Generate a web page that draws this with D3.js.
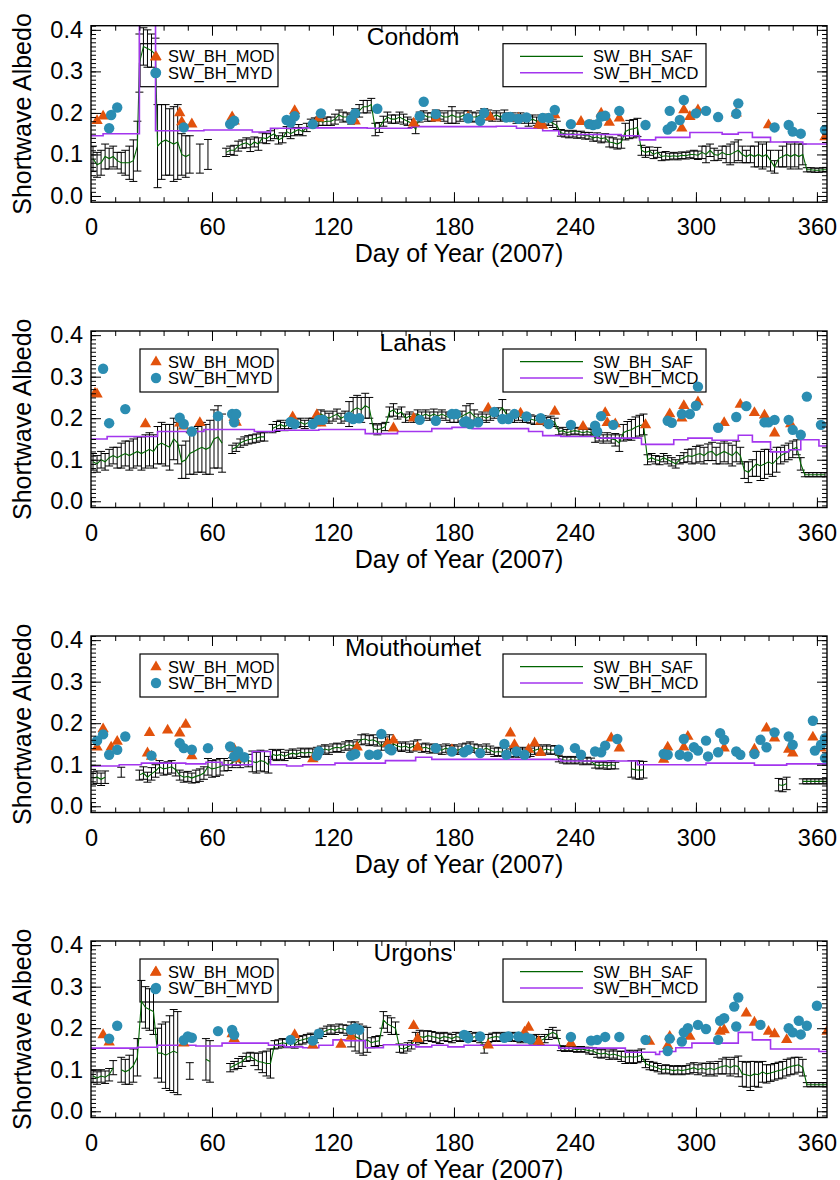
<!DOCTYPE html>
<html lang="en">
<head>
<meta charset="UTF-8">
<script src="https://cdnjs.cloudflare.com/ajax/libs/d3/7.8.5/d3.min.js"></script>
<style>
body{ margin:0; background:#fff; }
text{ font-family:"Liberation Sans", Arial, sans-serif; fill:#000; }
</style>
</head>
<body>
<div id="main-container"></div>
<script>
// ---- tick labels ----
const xTickLabels = [0, 60, 120, 180, 240, 300, 360];
const yTickLabels = [0.0, 0.1, 0.2, 0.3, 0.4];
const siteNames = ['Condom', 'Lahas', 'Mouthoumet', 'Urgons'];

// ---- SAF daily albedo: [day, value, error] (null value = gap) ----
const condomSAF = [[1,0.09,0.03],[3,0.075,0.03],[5,0.08,0.03],[7,0.095,0.03],[9,0.09,0.025],[11,0.095,0.025],
[13,0.085,0.02],[15,0.08,0.025],[17,0.08,0.03],[19,0.08,0.04],[21,0.085,0.05],[23,0.12,0.06],
[24,0.32,0.07],[26,0.36,0.045],[28,0.355,0.045],[30,0.35,0.04],[32,0.34,0.04],
[33,0.12,0.1],[35,0.13,0.09],[37,0.135,0.085],[39,0.13,0.08],[41,0.125,0.09],[43,0.13,0.09],
[45,0.1,0.05],[47,0.095,0.05],[49,0.1,0.045],[51,null,null],[54,0.09,0.035],[55,null,null],[58,0.1,0.036],[59,null,null],
[67,0.105,0.01],[69,0.11,0.01],[71,0.11,0.012],[73,0.12,0.012],[75,0.125,0.01],[77,0.128,0.012],[79,0.122,0.015],[81,0.13,0.012],[83,0.125,0.015],[85,0.14,0.012],[87,0.138,0.012],[89,0.145,0.012],[91,0.15,0.012],[93,0.135,0.01],[95,0.14,0.012],[97,0.155,0.012],[99,0.15,0.012],[101,0.155,0.01],[103,0.16,0.012],[105,0.155,0.01],[107,0.165,0.01],
[109,0.175,0.01],[111,0.178,0.01],[113,0.18,0.01],[115,0.178,0.008],[117,0.18,0.01],[119,0.18,0.01],[121,0.185,0.012],[123,0.195,0.012],[125,0.19,0.012],[127,0.19,0.01],[129,0.185,0.012],[131,0.195,0.015],[133,0.205,0.015],[135,0.215,0.015],[137,0.215,0.015],[139,0.22,0.015],[141,0.16,0.015],[143,0.165,0.012],[145,0.18,0.012],[147,0.19,0.012],[149,0.185,0.01],[151,0.185,0.01],[153,0.19,0.012],[155,0.185,0.012],[157,0.18,0.01],[159,0.175,0.01],[161,0.16,0.01],[163,0.19,0.012],[165,0.195,0.01],[167,0.19,0.01],[169,0.19,0.01],[171,0.195,0.012],[173,0.195,0.01],[175,0.19,0.01],[177,0.19,0.015],[179,0.195,0.02],[181,0.19,0.015],[183,0.19,0.01],[185,0.195,0.01],[187,0.195,0.01],[189,0.19,0.012],[191,0.19,0.01],[193,0.195,0.01],[195,0.2,0.01],[197,0.195,0.012],[199,0.19,0.01],[201,0.195,0.01],[203,0.19,0.01],[205,0.195,0.012],[207,0.19,0.01],[209,0.19,0.01],[211,0.185,0.01],[213,0.19,0.01],[215,0.185,0.01],[217,0.18,0.012],[219,0.185,0.01],[221,0.18,0.01],[223,0.183,0.012],[225,0.185,0.012],[227,0.18,0.01],[229,0.175,0.01],[231,0.17,0.01],
[233,0.152,0.008],[235,0.15,0.008],[237,0.148,0.008],[239,0.15,0.008],[241,0.147,0.008],[243,0.148,0.008],[245,0.145,0.008],[247,0.145,0.008],[249,0.14,0.008],[251,0.142,0.01],[253,0.138,0.01],[255,0.14,0.01],[257,0.13,0.012],[259,0.128,0.012],[261,0.125,0.012],[263,0.13,0.015],[265,0.155,0.02],[267,0.16,0.022],[269,0.162,0.022],[271,0.165,0.022],
[273,0.11,0.012],[275,0.105,0.012],[277,0.108,0.01],[279,0.1,0.01],[281,0.105,0.012],[283,0.095,0.01],[285,0.097,0.01],[287,0.095,0.008],[289,0.097,0.008],[291,0.095,0.008],[293,0.098,0.008],[295,0.097,0.008],[297,0.1,0.008],[299,0.1,0.01],[301,0.098,0.01],[303,0.105,0.015],[305,0.1,0.02],[307,0.11,0.015],[309,0.1,0.015],[311,0.098,0.012],[313,0.105,0.015],[315,0.1,0.02],[317,0.1,0.025],[319,0.105,0.025],[321,0.11,0.025],[323,0.1,0.02],[325,0.095,0.015],[327,0.1,0.02],[329,0.095,0.025],[331,0.1,0.03],[333,0.095,0.03],[335,0.1,0.03],[337,0.085,0.025],[339,0.07,0.015],[341,0.09,0.02],[343,0.095,0.025],[345,0.1,0.03],[347,0.095,0.03],[349,0.1,0.03],[351,0.095,0.03],[353,0.1,0.025],
[355,0.063,0.005],[357,0.063,0.005],[359,0.062,0.005],[361,0.062,0.005],[363,0.063,0.005],[365,0.063,0.005]];

const lahasSAF = [[1,0.095,0.02],[3,0.09,0.02],[5,0.1,0.02],[7,0.095,0.02],[9,0.105,0.02],[11,0.11,0.02],[13,0.105,0.025],[15,0.11,0.03],[17,0.115,0.03],[19,0.11,0.035],[21,0.115,0.035],[23,0.12,0.035],[25,0.115,0.04],[27,0.12,0.04],[29,0.125,0.04],[31,0.12,0.04],[33,0.135,0.045],[35,0.14,0.05],[37,0.135,0.05],[39,0.13,0.055],[41,0.15,0.05],[43,0.14,0.05],
[45,0.095,0.04],[47,0.1,0.045],[49,0.115,0.05],[51,0.12,0.055],[53,0.125,0.055],[55,0.13,0.06],[57,0.125,0.06],[59,0.13,0.065],[61,0.15,0.07],[63,0.155,0.075],[65,0.14,0.07],[67,null,null],
[70,0.125,0.01],[72,0.13,0.01],[74,0.14,0.01],[76,0.145,0.01],[78,0.148,0.01],[80,0.15,0.01],[82,0.152,0.01],[84,0.155,0.01],[86,0.155,0.01],[88,null,null],
[90,0.175,0.01],[92,0.18,0.012],[94,0.185,0.01],[96,0.18,0.01],[98,0.185,0.01],[100,0.185,0.01],[102,0.188,0.01],[104,0.19,0.01],[106,0.185,0.01],[108,0.19,0.01],[110,0.19,0.01],[112,0.192,0.01],[114,0.21,0.01],[116,0.205,0.012],[118,0.2,0.012],[120,0.205,0.012],[122,0.21,0.012],[124,0.2,0.012],[126,0.205,0.012],[128,0.21,0.03],[130,0.22,0.03],[132,0.225,0.03],[134,0.22,0.03],[136,0.23,0.03],[138,0.225,0.025],[140,0.175,0.012],[142,0.172,0.012],[144,0.175,0.012],[146,0.18,0.01],[148,0.215,0.012],[150,0.22,0.015],[152,0.21,0.012],[154,0.215,0.012],[156,0.2,0.01],[158,0.205,0.01],[160,0.2,0.01],[162,0.21,0.01],[164,0.205,0.01],[166,0.21,0.01],[168,0.205,0.01],[170,0.21,0.012],[172,0.205,0.01],[174,0.21,0.01],[176,0.205,0.01],[178,0.2,0.01],[180,0.2,0.01],[182,0.2,0.01],[184,0.205,0.012],[186,0.21,0.02],[188,0.215,0.02],[190,0.205,0.015],[192,0.2,0.01],[194,0.205,0.01],[196,0.2,0.01],[198,0.205,0.01],[200,0.21,0.01],[202,0.215,0.01],[204,0.225,0.02],[206,0.21,0.01],[208,0.2,0.01],[210,0.2,0.01],[212,0.205,0.01],[214,0.2,0.01],[216,0.2,0.01],[218,0.198,0.01],[220,0.195,0.01],[222,0.195,0.01],[224,0.196,0.01],[226,0.192,0.01],[228,0.195,0.01],[230,0.19,0.01],
[232,0.168,0.008],[234,0.17,0.008],[236,0.165,0.008],[238,0.168,0.008],[240,0.17,0.008],[242,0.168,0.008],[244,0.165,0.008],[246,0.168,0.008],[248,0.165,0.008],[250,0.152,0.01],[252,0.155,0.01],[254,0.15,0.01],[256,0.155,0.01],[258,0.15,0.01],[260,0.148,0.015],[262,0.14,0.02],[264,0.165,0.02],[266,0.17,0.022],[268,0.172,0.025],[270,0.178,0.025],[272,0.182,0.025],[274,0.185,0.025],
[276,0.1,0.012],[278,0.105,0.01],[280,0.1,0.01],[282,0.098,0.01],[284,0.105,0.01],[286,0.1,0.01],[288,0.095,0.01],[290,0.09,0.01],[292,0.1,0.01],[294,0.105,0.012],[296,0.11,0.015],[298,0.108,0.018],[300,0.112,0.02],[302,0.115,0.02],[304,0.11,0.02],[306,0.118,0.02],[308,0.12,0.022],[310,0.11,0.02],[312,0.115,0.025],[314,0.12,0.025],[316,0.115,0.025],[318,0.11,0.025],[320,0.12,0.025],[322,0.11,0.02],[324,0.075,0.02],[326,0.07,0.025],[328,0.08,0.02],[330,0.09,0.03],[332,0.085,0.035],[334,0.09,0.035],[336,0.095,0.03],[338,0.09,0.03],[340,0.1,0.03],[342,0.11,0.02],[344,0.115,0.02],[346,0.12,0.02],[348,0.125,0.02],[350,0.13,0.018],[352,0.09,0.015],
[354,0.064,0.005],[356,0.064,0.005],[358,0.064,0.005],[360,0.064,0.005],[362,0.064,0.005],[364,0.064,0.005]];

const mouthoumetSAF = [[1,0.068,0.015],[3,0.07,0.015],[5,0.065,0.015],[7,0.07,0.015],[8,null,null],[15,0.082,0.012],[16,null,null],
[24,0.075,0.012],[26,0.08,0.015],[28,0.07,0.012],[30,0.078,0.015],[32,0.085,0.015],[34,0.095,0.015],[36,0.09,0.015],[38,0.092,0.015],[40,0.095,0.015],[42,0.088,0.015],[44,0.075,0.012],[46,0.07,0.012],[48,0.072,0.012],[50,0.068,0.012],[52,0.072,0.015],[54,0.075,0.015],[56,0.08,0.015],[58,0.095,0.02],[60,0.09,0.02],[62,0.092,0.02],[64,0.095,0.02],[66,0.1,0.015],[68,0.098,0.012],[70,0.105,0.012],[72,0.11,0.012],[74,0.105,0.012],[76,0.112,0.012],[78,0.11,0.015],[80,0.108,0.025],[82,0.105,0.025],[84,0.11,0.025],[86,0.108,0.025],[88,0.1,0.02],
[90,0.125,0.012],[92,0.122,0.012],[94,0.125,0.012],[96,0.12,0.01],[98,0.125,0.01],[100,0.128,0.01],[102,0.125,0.01],[104,0.13,0.01],[106,0.128,0.01],[108,0.13,0.01],[110,0.128,0.01],[112,0.132,0.01],[114,0.135,0.01],[116,0.138,0.01],[118,0.135,0.01],[120,0.14,0.01],[122,0.142,0.01],[124,0.14,0.01],[126,0.145,0.01],[128,0.148,0.01],[130,0.145,0.01],[132,0.15,0.01],[134,0.16,0.012],[136,0.162,0.012],[138,0.158,0.012],[140,0.16,0.012],[142,0.155,0.01],[144,0.145,0.01],[146,0.155,0.012],[148,0.16,0.012],[150,0.15,0.01],[152,0.145,0.01],[154,0.142,0.01],[156,0.145,0.01],[158,0.14,0.01],[160,0.145,0.012],[162,0.148,0.012],[164,0.14,0.01],[166,0.142,0.01],[168,0.138,0.01],[170,0.14,0.01],[172,0.138,0.01],[174,0.135,0.01],[176,0.14,0.01],[178,0.136,0.01],[180,0.138,0.01],[182,0.135,0.01],[184,0.14,0.01],[186,0.142,0.01],[188,0.145,0.01],[190,0.14,0.01],[192,0.138,0.01],[194,0.135,0.01],[196,0.14,0.01],[198,0.135,0.01],[200,0.13,0.01],[202,0.132,0.01],[204,0.13,0.01],[206,0.135,0.01],[208,0.128,0.01],[210,0.13,0.01],[212,0.128,0.01],[214,0.132,0.01],[216,0.128,0.01],[218,0.13,0.01],[220,0.135,0.01],[222,0.138,0.01],[224,0.135,0.01],[226,0.138,0.01],[228,0.135,0.01],[230,0.136,0.01],
[232,0.115,0.008],[234,0.112,0.008],[236,0.11,0.008],[238,0.112,0.008],[240,0.11,0.008],[242,0.112,0.008],[244,0.108,0.008],[246,0.11,0.008],[248,0.108,0.008],[250,0.1,0.008],[252,0.098,0.008],[254,0.1,0.008],[256,0.097,0.008],[258,0.1,0.01],[260,0.098,0.008],[261,null,null],
[268,0.09,0.02],[270,0.088,0.022],[272,0.087,0.022],[274,0.088,0.02],[275,null,null],
[341,0.052,0.015],[343,0.05,0.015],[345,0.055,0.015],[346,null,null],
[353,0.06,0.006],[355,0.06,0.006],[357,0.06,0.006],[359,0.06,0.006],[361,0.06,0.006],[363,0.06,0.006],[365,0.06,0.006]];

const urgonsSAF = [[1,0.085,0.015],[3,0.08,0.015],[5,0.085,0.015],[7,0.082,0.015],[9,0.088,0.015],[11,0.105,0.017],[12,null,null],
[15,0.1,0.03],[17,0.095,0.03],[19,0.1,0.035],[21,0.11,0.04],[23,0.13,0.045],[25,0.265,0.05],[27,0.25,0.05],[29,0.245,0.05],[31,0.24,0.055],[33,0.14,0.06],[35,0.14,0.07],[37,0.135,0.08],[39,0.14,0.09],[41,0.145,0.1],[43,0.14,0.1],[44,null,null],
[49,0.097,0.02],[50,null,null],[57,0.125,0.05],[59,0.12,0.05],[60,null,null],
[69,0.105,0.01],[71,0.11,0.01],[73,0.115,0.012],[75,0.12,0.012],[77,0.13,0.01],[79,0.132,0.01],[81,0.125,0.015],[83,0.12,0.02],[85,0.118,0.025],[87,0.115,0.03],[89,0.115,0.035],
[91,0.16,0.01],[93,0.162,0.01],[95,0.165,0.01],[97,0.163,0.01],[99,0.165,0.01],[101,0.162,0.01],[103,0.17,0.01],[105,0.172,0.01],[107,0.175,0.01],[109,0.178,0.01],[111,0.175,0.01],[113,0.185,0.01],[115,0.19,0.01],[117,0.195,0.01],[119,0.198,0.01],[121,0.195,0.01],[123,0.2,0.01],[125,0.198,0.01],[127,0.195,0.012],[129,0.185,0.03],[131,0.18,0.035],[133,0.175,0.035],[135,0.17,0.035],[137,0.172,0.03],[139,0.165,0.012],[141,0.168,0.012],[143,0.17,0.012],[145,0.22,0.02],[147,0.21,0.02],[149,0.205,0.02],[151,0.2,0.015],[153,0.152,0.01],[155,0.15,0.01],[157,0.155,0.01],[159,0.16,0.01],[161,0.175,0.015],[163,0.18,0.015],[165,0.178,0.015],[167,0.182,0.012],[169,0.18,0.012],[171,0.178,0.012],[173,0.175,0.012],[175,0.18,0.01],[177,0.178,0.01],[179,0.175,0.01],[181,0.18,0.01],[183,0.178,0.01],[185,0.18,0.01],[187,0.182,0.01],[189,0.178,0.01],[191,0.18,0.01],[193,0.175,0.01],[195,0.15,0.01],[197,0.175,0.01],[199,0.178,0.01],[201,0.18,0.01],[203,0.178,0.01],[205,0.18,0.01],[207,0.178,0.01],[209,0.18,0.01],[211,0.178,0.01],[213,0.175,0.01],[215,0.178,0.01],[217,0.175,0.01],[219,0.172,0.01],[221,0.175,0.01],[223,0.17,0.01],[225,0.175,0.01],[227,0.185,0.012],[229,0.19,0.012],[231,0.185,0.01],
[233,0.152,0.006],[235,0.15,0.006],[237,0.152,0.006],[239,0.15,0.006],[241,0.148,0.006],[243,0.15,0.006],[245,0.148,0.006],[247,0.146,0.008],[249,0.145,0.008],[251,0.14,0.01],[253,0.138,0.01],[255,0.14,0.01],[257,0.135,0.01],[259,0.138,0.01],[261,0.135,0.01],[263,0.132,0.012],[265,0.13,0.015],[267,0.132,0.015],[269,0.13,0.015],[271,0.132,0.015],[273,0.135,0.015],
[275,0.115,0.01],[277,0.11,0.01],[279,0.108,0.01],[281,0.105,0.01],[283,0.1,0.01],[285,0.102,0.01],[287,0.1,0.01],[289,0.098,0.01],[291,0.1,0.01],[293,0.098,0.01],[295,0.1,0.01],[297,0.102,0.012],[299,0.105,0.012],[301,0.1,0.012],[303,0.104,0.012],[305,0.1,0.015],[307,0.104,0.015],[309,0.1,0.015],[311,0.105,0.015],[313,0.108,0.018],[315,0.11,0.02],[317,0.105,0.02],[319,0.11,0.02],[321,0.108,0.025],[323,0.09,0.03],[325,0.088,0.03],[327,0.085,0.035],[329,0.09,0.03],[331,0.088,0.03],[333,0.095,0.025],[335,0.09,0.022],[337,0.092,0.02],[339,0.095,0.02],[341,0.098,0.02],[343,0.1,0.02],[345,0.105,0.02],[347,0.108,0.02],[349,0.11,0.02],[351,0.112,0.018],[353,0.105,0.02],
[355,0.064,0.005],[357,0.064,0.005],[359,0.064,0.005],[361,0.064,0.005],[363,0.064,0.005],[365,0.064,0.005]];

// ---- MCD 8-day albedo, steps: [start day, value] ----
const condomMCD = [[0,0.145],[6,0.15],[24,0.5],[32,0.157],[56,0.159],[80,0.154],[89,0.163],[105,0.164],[137,0.163],[159,0.167],[201,0.168],[211,0.163],[224,0.157],[232,0.148],[263,0.145],[272,0.135],[280,0.141],[297,0.153],[313,0.149],[321,0.153],[328,0.141],[337,0.130],[353,0.125]];
const lahasMCD = [[0,0.15],[8,0.156],[33,0.168],[56,0.173],[81,0.168],[91,0.171],[113,0.173],[136,0.163],[152,0.168],[169,0.175],[179,0.178],[189,0.175],[217,0.168],[224,0.158],[233,0.156],[251,0.152],[273,0.137],[289,0.148],[296,0.152],[308,0.147],[321,0.159],[328,0.143],[337,0.119],[346,0.124],[352,0.148],[361,0.133]];
const mouthoumetMCD = [[0,0.097],[14,0.1],[25,0.104],[47,0.102],[57,0.106],[65,0.1],[80,0.132],[89,0.1],[97,0.097],[105,0.1],[121,0.104],[146,0.11],[161,0.118],[169,0.113],[200,0.113],[233,0.109],[271,0.1],[305,0.104],[329,0.099],[345,0.102]];
const urgonsMCD = [[0,0.152],[23,0.154],[33,0.159],[52,0.157],[65,0.164],[88,0.159],[96,0.155],[105,0.153],[113,0.159],[120,0.172],[126,0.17],[136,0.153],[145,0.16],[161,0.155],[169,0.159],[177,0.155],[185,0.159],[232,0.152],[265,0.142],[280,0.137],[282,0.144],[290,0.153],[298,0.164],[321,0.19],[328,0.172],[337,0.15],[361,0.144]];

// ---- MOD (Terra) points: [day, value] ----
const condomMOD = [[3,0.181],[6,0.192],[32,0.334],[44,0.2],[45,0.178],[50,0.173],[70,0.19],[71,0.18],[101,0.205],[113,0.187],[131,0.18],[160,0.175],[171,0.187],[187,0.19],[198,0.19],[212,0.187],[222,0.171],[224,0.17],[230,0.195],[243,0.179],[248,0.17],[253,0.199],[257,0.177],[262,0.187],[293,0.163],[294,0.207],[297,0.191],[301,0.207],[320,0.199],[336,0.171],[364,0.142]];
const lahasMOD = [[2,0.26],[3,0.258],[27,0.186],[44,0.188],[46,0.181],[54,0.189],[71,0.201],[72,0.19],[100,0.203],[112,0.208],[114,0.188],[150,0.176],[160,0.2],[197,0.224],[213,0.212],[223,0.192],[230,0.216],[244,0.18],[255,0.213],[256,0.189],[260,0.186],[275,0.184],[287,0.21],[293,0.2],[294,0.23],[301,0.239],[314,0.189],[322,0.233],[329,0.213],[334,0.207],[339,0.164],[347,0.186]];
const mouthoumetMOD = [[3,0.142],[6,0.186],[10,0.142],[13,0.156],[28,0.128],[29,0.177],[30,0.12],[38,0.183],[44,0.176],[47,0.197],[50,0.121],[71,0.138],[73,0.114],[110,0.114],[132,0.142],[147,0.151],[150,0.159],[162,0.142],[179,0.136],[208,0.176],[210,0.148],[217,0.137],[220,0.152],[223,0.129],[258,0.164],[262,0.14],[284,0.113],[286,0.142],[294,0.142],[296,0.168],[314,0.14],[329,0.137],[335,0.188],[339,0.164],[346,0.137],[348,0.128],[358,0.166],[362,0.14]];
const urgonsMOD = [[6,0.184],[9,0.166],[32,0.334],[46,0.164],[70,0.186],[71,0.175],[101,0.184],[110,0.159],[124,0.161],[129,0.18],[160,0.206],[162,0.175],[197,0.159],[215,0.19],[217,0.202],[222,0.168],[238,0.164],[277,0.168],[286,0.158],[287,0.18],[297,0.18],[312,0.192],[314,0.196],[325,0.236],[329,0.214],[336,0.192],[339,0.186],[345,0.172],[365,0.192]];

// ---- MYD (Aqua) points: [day, value] ----
const condomMYD = [[9,0.163],[10,0.195],[13,0.213],[32,0.296],[46,0.165],[69,0.173],[71,0.181],[97,0.183],[99,0.177],[101,0.192],[110,0.173],[114,0.199],[129,0.184],[131,0.199],[142,0.21],[163,0.192],[165,0.227],[171,0.197],[187,0.187],[193,0.181],[195,0.2],[206,0.189],[208,0.19],[212,0.186],[216,0.189],[224,0.188],[227,0.188],[230,0.207],[238,0.173],[247,0.173],[249,0.171],[251,0.173],[253,0.191],[255,0.193],[262,0.205],[275,0.171],[286,0.16],[287,0.205],[288,0.168],[292,0.183],[294,0.231],[300,0.199],[305,0.205],[311,0.19],[320,0.198],[321,0.223],[339,0.165],[346,0.171],[348,0.155],[352,0.15],[364,0.159]];
const lahasMYD = [[6,0.319],[9,0.188],[17,0.222],[44,0.201],[46,0.186],[50,0.168],[63,0.205],[70,0.21],[71,0.19],[72,0.21],[99,0.191],[101,0.186],[110,0.186],[113,0.196],[115,0.196],[128,0.203],[130,0.198],[133,0.2],[163,0.196],[171,0.194],[179,0.21],[181,0.21],[185,0.19],[186,0.193],[188,0.186],[192,0.19],[200,0.215],[204,0.198],[207,0.198],[210,0.21],[216,0.204],[223,0.2],[227,0.186],[238,0.184],[250,0.182],[251,0.168],[253,0.205],[259,0.184],[286,0.194],[288,0.189],[293,0.21],[297,0.21],[300,0.23],[301,0.276],[311,0.177],[320,0.203],[325,0.229],[334,0.19],[336,0.19],[339,0.196],[346,0.196],[348,0.172],[352,0.16],[355,0.252],[362,0.184]];
const mouthoumetMYD = [[3,0.158],[6,0.173],[9,0.124],[13,0.136],[17,0.168],[30,0.122],[44,0.152],[46,0.14],[50,0.136],[58,0.14],[69,0.144],[71,0.12],[73,0.132],[76,0.118],[112,0.122],[113,0.132],[129,0.122],[131,0.126],[138,0.124],[142,0.124],[144,0.174],[148,0.138],[149,0.135],[171,0.14],[179,0.132],[185,0.13],[187,0.136],[193,0.128],[205,0.15],[206,0.124],[211,0.132],[215,0.124],[232,0.136],[240,0.14],[243,0.124],[250,0.132],[253,0.13],[255,0.146],[261,0.162],[284,0.126],[286,0.124],[292,0.124],[294,0.162],[296,0.12],[299,0.142],[301,0.134],[305,0.158],[306,0.12],[311,0.13],[312,0.176],[314,0.16],[320,0.132],[322,0.124],[329,0.126],[332,0.16],[335,0.142],[339,0.178],[346,0.168],[348,0.148],[358,0.206],[359,0.134],[362,0.148],[364,0.164],[364,0.116]];
const urgonsMYD = [[9,0.175],[13,0.206],[32,0.294],[46,0.171],[48,0.18],[50,0.177],[63,0.193],[70,0.196],[71,0.184],[99,0.172],[110,0.17],[113,0.187],[129,0.196],[131,0.2],[133,0.196],[185,0.184],[186,0.182],[187,0.176],[193,0.18],[205,0.177],[207,0.18],[212,0.18],[216,0.177],[218,0.174],[238,0.179],[248,0.17],[251,0.172],[255,0.179],[262,0.179],[275,0.172],[286,0.145],[287,0.175],[293,0.168],[294,0.19],[296,0.2],[301,0.208],[305,0.198],[311,0.172],[312,0.218],[314,0.224],[319,0.252],[320,0.204],[321,0.274],[332,0.208],[346,0.2],[348,0.19],[351,0.218],[352,0.185],[355,0.206],[360,0.254]];

const panels = [
  {name: siteNames[0], saf: condomSAF, mcd: condomMCD, mod: condomMOD, myd: condomMYD},
  {name: siteNames[1], saf: lahasSAF, mcd: lahasMCD, mod: lahasMOD, myd: lahasMYD},
  {name: siteNames[2], saf: mouthoumetSAF, mcd: mouthoumetMCD, mod: mouthoumetMOD, myd: mouthoumetMYD},
  {name: siteNames[3], saf: urgonsSAF, mcd: urgonsMCD, mod: urgonsMOD, myd: urgonsMYD}
];

const w = 840, h = 1180;
const left = 91, right = 827;
const panelTops = [25.7, 331, 636, 941];
const panelH = 176.5;
const font = '"Liberation Sans", Arial, sans-serif';
const safColor = '#006400', mcdColor = '#a335ee', modColor = '#e2520c', mydColor = '#2b8db2';

const svg = d3.select('#main-container').append('svg').attr('width', w).attr('height', h);
const xScale = d3.scaleLinear().domain([0, 365]).range([left, right]);
const xMinor = d3.range(0, 366, 12);
const yMinor = d3.range(-1, 42).map(i => i / 100);

panels.forEach((p, i) => {
  const top = panelTops[i];
  const yScale = d3.scaleLinear().domain([-0.015, 0.41]).range([top + panelH, top]);
  const g = svg.append('g');

  g.append('clipPath').attr('id', 'clip' + i).append('rect')
    .attr('x', left).attr('y', top).attr('width', right - left).attr('height', panelH);

  // legends (drawn under the data)
  const lg = g.append('g').attr('font-family', font).attr('font-size', 16.5);
  lg.append('rect').attr('x', 140).attr('y', top + 18).attr('width', 138).attr('height', 43)
    .attr('fill', 'none').attr('stroke', '#000').attr('stroke-width', 1.2);
  lg.append('path').attr('d', d3.symbol(d3.symbolTriangle, 56)())
    .attr('transform', 'translate(156,' + (top + 31) + ')').attr('fill', modColor);
  lg.append('circle').attr('cx', 156).attr('cy', top + 47).attr('r', 5.2).attr('fill', mydColor);
  lg.append('text').attr('x', 168).attr('y', top + 36.5).text('SW_BH_MOD');
  lg.append('text').attr('x', 168).attr('y', top + 53).text('SW_BH_MYD');

  lg.append('rect').attr('x', 503).attr('y', top + 18).attr('width', 203).attr('height', 43)
    .attr('fill', 'none').attr('stroke', '#000').attr('stroke-width', 1.2);
  lg.append('line').attr('x1', 520).attr('x2', 583).attr('y1', top + 30.7).attr('y2', top + 30.7)
    .attr('stroke', safColor).attr('stroke-width', 1.3);
  lg.append('line').attr('x1', 520).attr('x2', 583).attr('y1', top + 47).attr('y2', top + 47)
    .attr('stroke', mcdColor).attr('stroke-width', 1.5);
  lg.append('text').attr('x', 593).attr('y', top + 36.5).text('SW_BH_SAF');
  lg.append('text').attr('x', 593).attr('y', top + 53).text('SW_BH_MCD');

  // title
  g.append('text').attr('x', 413).attr('y', top + 19.5).attr('text-anchor', 'middle')
    .attr('font-family', font).attr('font-size', 24.5).text(p.name);

  const plot = g.append('g').attr('clip-path', 'url(#clip' + i + ')');
  const saf = p.saf.filter(d => d[1] != null);

  // SAF error bars
  const eb = plot.append('g').attr('stroke', '#000').attr('stroke-width', 1);
  eb.selectAll('line.v').data(saf).enter().append('line').attr('class', 'v')
    .attr('x1', d => xScale(d[0])).attr('x2', d => xScale(d[0]))
    .attr('y1', d => yScale(d[1] - d[2])).attr('y2', d => yScale(d[1] + d[2]));
  eb.selectAll('line.hi').data(saf).enter().append('line').attr('class', 'hi')
    .attr('x1', d => xScale(d[0]) - 4).attr('x2', d => xScale(d[0]) + 4)
    .attr('y1', d => yScale(d[1] + d[2])).attr('y2', d => yScale(d[1] + d[2]));
  eb.selectAll('line.lo').data(saf).enter().append('line').attr('class', 'lo')
    .attr('x1', d => xScale(d[0]) - 4).attr('x2', d => xScale(d[0]) + 4)
    .attr('y1', d => yScale(d[1] - d[2])).attr('y2', d => yScale(d[1] - d[2]));

  // SAF line
  const safLine = d3.line().defined(d => d[1] != null).x(d => xScale(d[0])).y(d => yScale(d[1]));
  plot.append('path').datum(p.saf).attr('d', safLine)
    .attr('fill', 'none').attr('stroke', safColor).attr('stroke-width', 1.1);

  // MCD step line
  const mcd = p.mcd.concat([[365, p.mcd[p.mcd.length - 1][1]]]);
  const mcdLine = d3.line().curve(d3.curveStepAfter).x(d => xScale(d[0])).y(d => yScale(d[1]));
  plot.append('path').datum(mcd).attr('d', mcdLine)
    .attr('fill', 'none').attr('stroke', mcdColor).attr('stroke-width', 1.6);

  // MOD triangles, MYD circles
  plot.selectAll('path.mod').data(p.mod).enter().append('path').attr('class', 'mod')
    .attr('d', d3.symbol(d3.symbolTriangle, 56)())
    .attr('transform', d => 'translate(' + xScale(d[0]) + ',' + yScale(d[1]) + ')')
    .attr('fill', modColor);
  plot.selectAll('circle.myd').data(p.myd).enter().append('circle').attr('class', 'myd')
    .attr('cx', d => xScale(d[0])).attr('cy', d => yScale(d[1])).attr('r', 5.2)
    .attr('fill', mydColor);

  // axes (ticks point inward)
  const axes = g.append('g');
  const bottom = top + panelH;
  axes.append('g').attr('transform', 'translate(0,' + bottom + ')')
    .call(d3.axisBottom(xScale).tickValues(xTickLabels).tickSize(-10).tickPadding(16.5).tickFormat(d3.format('d')));
  axes.append('g').attr('transform', 'translate(0,' + bottom + ')')
    .call(d3.axisBottom(xScale).tickValues(xMinor).tickSize(-5).tickFormat(''));
  axes.append('g').attr('transform', 'translate(0,' + top + ')')
    .call(d3.axisTop(xScale).tickValues(xTickLabels).tickSize(-10).tickFormat(''));
  axes.append('g').attr('transform', 'translate(0,' + top + ')')
    .call(d3.axisTop(xScale).tickValues(xMinor).tickSize(-5).tickFormat(''));
  axes.append('g').attr('transform', 'translate(' + left + ',0)')
    .call(d3.axisLeft(yScale).tickValues(yTickLabels).tickSize(-10).tickPadding(8).tickFormat(d3.format('.1f')));
  axes.append('g').attr('transform', 'translate(' + left + ',0)')
    .call(d3.axisLeft(yScale).tickValues(yMinor).tickSize(-5).tickFormat(''));
  axes.append('g').attr('transform', 'translate(' + right + ',0)')
    .call(d3.axisRight(yScale).tickValues(yTickLabels).tickSize(-10).tickFormat(''));
  axes.append('g').attr('transform', 'translate(' + right + ',0)')
    .call(d3.axisRight(yScale).tickValues(yMinor).tickSize(-5).tickFormat(''));
  axes.selectAll('.domain').remove();
  axes.selectAll('.tick line').attr('stroke', '#000').attr('stroke-width', 1);
  axes.selectAll('text').attr('font-family', font).attr('font-size', 23.5).attr('fill', '#000');

  g.append('rect').attr('x', left).attr('y', top).attr('width', right - left).attr('height', panelH)
    .attr('fill', 'none').attr('stroke', '#000').attr('stroke-width', 1.4);

  // axis titles
  g.append('text').attr('x', (left + right) / 2).attr('y', bottom + 60).attr('text-anchor', 'middle')
    .attr('font-family', font).attr('font-size', 25).text('Day of Year (2007)');
  g.append('text').attr('transform', 'translate(31,' + (top + panelH / 2) + ') rotate(-90)')
    .attr('text-anchor', 'middle').attr('font-family', font).attr('font-size', 25).text('Shortwave Albedo');
});
</script>
</body>
</html>
